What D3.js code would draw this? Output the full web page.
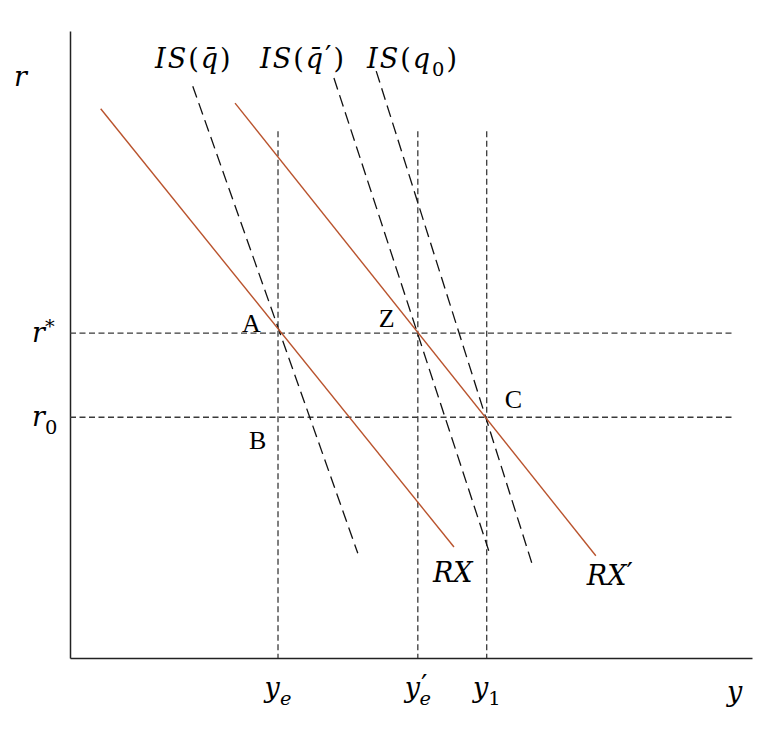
<!DOCTYPE html>
<html>
<head>
<meta charset="utf-8">
<script src="https://cdn.jsdelivr.net/npm/d3@7"></script>
<style>
  body { margin: 0; background: #fff; }
  svg { display: block; }
  .axis path { stroke: #222; stroke-width: 1.5; }
  .math { font-family: 'DejaVu Serif', serif; }
  .pt { font-family: 'Liberation Serif', serif; font-size: 26px; }
</style>
</head>
<body>
<div id="chart"></div>
<script>
// output levels on the horizontal axis: y_e, y_e', y_1
const yMarks = [3.05, 5.10, 6.11]
const yMarkNames = ['e', 'e′', '1']
// interest rates on the vertical axis: r*, r0
const rMarks = [5.18, 3.84]
const rMarkNames = ['*', '0']

// each curve is a straight segment [start, end] in (y, r) units
const rxCurve = [[0.45, 8.76], [5.63, 1.77]]
const rxPrimeCurve = [[2.42, 8.85], [7.71, 1.63]]
const isQbar = [[1.80, 9.12], [4.22, 1.67]]
const isQbarPrime = [[3.87, 9.25], [6.14, 1.71]]
const isQ0 = [[4.49, 9.36], [6.77, 1.52]]

const markTop = 8.40   // where the vertical guides stop
const guideEnd = 9.72  // where the horizontal guides stop

const width = 770
const height = 752

const x = d3.scaleLinear().domain([0, 10]).range([70, 752])
const y = d3.scaleLinear().domain([0, 10]).range([658, 31])

const svg = d3.select('#chart').append('svg')
    .attr('width', width)
    .attr('height', height)

// axes, no ticks
svg.append('g')
    .attr('class', 'axis')
    .attr('transform', 'translate(0,' + y(0) + ')')
    .call(d3.axisBottom(x).tickValues([]).tickSizeOuter(0))
svg.append('g')
    .attr('class', 'axis')
    .attr('transform', 'translate(' + x(0) + ',0)')
    .call(d3.axisLeft(y).tickValues([]).tickSizeOuter(0))

const guideColor = '#3a3a3a'

// dashed guides
svg.append('g').selectAll('line').data(yMarks).join('line')
    .attr('x1', d => x(d)).attr('x2', d => x(d))
    .attr('y1', y(markTop)).attr('y2', y(0))
    .attr('stroke', guideColor).attr('stroke-width', 1.3)
    .attr('stroke-dasharray', '6,3.5')
svg.append('g').selectAll('line').data(rMarks).join('line')
    .attr('x1', x(0)).attr('x2', x(guideEnd))
    .attr('y1', d => y(d)).attr('y2', d => y(d))
    .attr('stroke', guideColor).attr('stroke-width', 1.3)
    .attr('stroke-dasharray', '6,3.5')

const line = d3.line().x(d => x(d[0])).y(d => y(d[1]))

// IS curves: long dashes
svg.append('g').selectAll('path').data([isQbar, isQbarPrime, isQ0]).join('path')
    .attr('d', line)
    .attr('fill', 'none')
    .attr('stroke', '#111')
    .attr('stroke-width', 1.3)
    .attr('stroke-dasharray', '12,6')

// RX curves: solid brown
svg.append('g').selectAll('path').data([rxCurve, rxPrimeCurve]).join('path')
    .attr('d', line)
    .attr('fill', 'none')
    .attr('stroke', '#b9532d')
    .attr('stroke-width', 1.4)

// math-ish label: parts are [text, kind, dx] with kind i (italic), n (upright),
// s (subscript), si (italic subscript), p (superscript), pr (prime)
function mathLabel (g, px, py, parts, size, anchor, spacing) {
  const t = g.append('text')
      .attr('class', 'math')
      .attr('x', px).attr('y', py)
      .attr('font-size', size)
      .attr('text-anchor', anchor || 'start')
      .attr('letter-spacing', spacing || 0)
  let shift = 0
  parts.forEach(([s, k, dx]) => {
    const sp = t.append('tspan').text(s)
    let target = 0
    if (k === 's') { target = size * 0.28; sp.attr('font-size', size * 0.72) }
    if (k === 'p') { target = -size * 0.35; sp.attr('font-size', size * 0.72) }
    if (k === 'pr') { target = -size * 0.08; sp.attr('font-size', size * 1.05) }
    if (k === 'i') sp.attr('font-style', 'italic')
    if (k === 'si') { target = size * 0.28; sp.attr('font-size', size * 0.72).attr('font-style', 'italic') }
    if (target !== shift) { sp.attr('dy', target - shift); shift = target }
    if (dx) sp.attr('dx', dx)
  })
  return t
}

const labels = svg.append('g')

// curve names
mathLabel(labels, 155, 68, [['IS', 'i'], ['(', 'n'], ['q\u0304', 'i'], [')', 'n']], 27, 'start', 2)
mathLabel(labels, 260, 68, [['IS', 'i'], ['(', 'n'], ['q\u0304', 'i'], ['′', 'pr'], [')', 'n']], 27, 'start', 2)
mathLabel(labels, 367, 68, [['IS', 'i'], ['(', 'n'], ['q', 'i'], ['0', 's'], [')', 'n']], 27, 'start', 2)
mathLabel(labels, x(rxCurve[1][0]) - 21, 582, [['RX', 'i']], 27)
mathLabel(labels, x(rxPrimeCurve[1][0]) - 9, 585, [['RX', 'i'], ['′', 'pr']], 27)

// axis names
mathLabel(labels, 14, 86, [['r', 'i']], 27)
mathLabel(labels, 727, 701, [['y', 'i']], 27)

// r marks
rMarks.forEach((d, i) => {
  const kind = rMarkNames[i] === '*' ? 'p' : 's'
  mathLabel(labels, 32, y(d) + 9, [['r', 'i'], [rMarkNames[i], kind]], 27)
})

// y marks: y_e' puts the prime above the subscript
yMarks.forEach((d, i) => {
  const nm = yMarkNames[i]
  const parts = [['y', 'i']]
  if (nm === '1') parts.push(['1', 's'])
  else if (nm === 'e') parts.push(['e', 'si'])
  else parts.push(['′', 'pr', 1], ['e', 'si', -8])
  mathLabel(labels, x(d), 697, parts, 27, 'middle')
})

// intersection points
const points = [
  {name: 'A', px: yMarks[0], py: rMarks[0], dx: -36, dy: -1},
  {name: 'B', px: yMarks[0], py: rMarks[1], dx: -29, dy: 32},
  {name: 'Z', px: yMarks[1], py: rMarks[0], dx: -39, dy: -6},
  {name: 'C', px: yMarks[2], py: rMarks[1], dx: 18, dy: -9}
]
labels.selectAll('.pt').data(points).join('text')
    .attr('class', 'pt')
    .attr('x', d => x(d.px) + d.dx)
    .attr('y', d => y(d.py) + d.dy)
    .text(d => d.name)
</script>
</body>
</html>
